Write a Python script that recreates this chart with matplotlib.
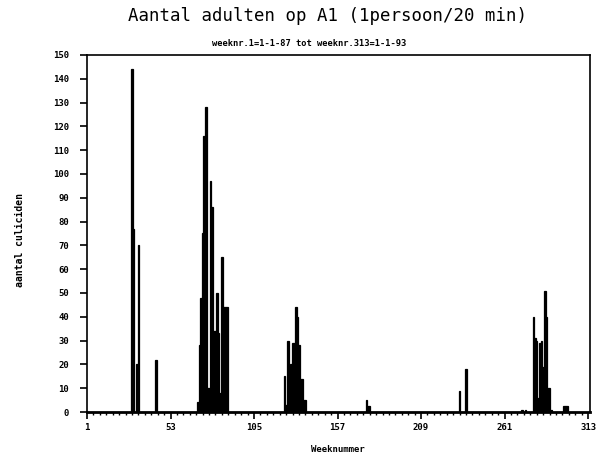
import matplotlib
matplotlib.use("Agg")
import matplotlib.pyplot as plt
import numpy as np

# Data (weeks with non-zero counts; all other weeks are 0)
weeks = [29, 30, 32, 33, 44,
         70, 71, 72, 73, 74, 75, 76, 77, 78, 79, 80, 81, 82, 83, 84, 85, 86, 87, 88,
         124, 125, 126, 127, 128, 129, 130, 131, 132, 133, 134, 135, 136, 137,
         175, 176, 177, 233, 237,
         272, 274,
         279, 280, 281, 282, 283, 284, 285, 286, 287, 288, 289, 290,
         298, 299, 300]
counts = [144, 77, 20, 70, 22,
          4, 28, 48, 75, 116, 128, 10, 10, 97, 86, 34, 34, 50, 33, 8, 65, 44, 44, 44,
          15, 3, 30, 19, 20, 29, 29, 44, 40, 28, 14, 14, 5, 5,
          5, 2.5, 2.5, 9, 18,
          1, 1,
          40, 31, 30, 6, 29, 30, 19, 51, 40, 10, 10, 1,
          2.5, 2.5, 2.5]
xticks = [1, 53, 105, 157, 209, 261, 313]
yticks = list(range(0, 151, 10))

title = "Aantal adulten op A1 (1persoon/20 min)"
subtitle = "weeknr.1=1-1-87 tot weeknr.313=1-1-93"
ylabel = "aantal culiciden"
xlabel = "Weeknummer"

plt.rcParams['font.family'] = ['DejaVu Sans Mono']
plt.rcParams['font.weight'] = 'bold'

fig = plt.figure(figsize=(5.97, 4.59), dpi=100)
ax = fig.add_axes([87/597, 1 - 412/459, (590 - 87)/597, (412 - 55)/459])

ax.bar(weeks, counts, width=1.0, color='black', edgecolor='black', align='center', linewidth=0.9)

ax.set_xlim(1, 314.2)
ax.set_ylim(0, 150)
ax.set_xticks(xticks)
ax.set_xticklabels([str(t) for t in xticks], fontsize=6.5, fontweight='bold')
ax.set_xticks(np.arange(1, 314, 4), minor=True)
ax.set_yticks(yticks)
ax.set_yticklabels([str(t) for t in yticks], fontsize=6.5, fontweight='bold')
ax.tick_params(axis='both', which='major', direction='out', length=5, width=1.2, pad=3)
ax.tick_params(axis='x', which='minor', direction='out', length=2.5, width=1)
ax.tick_params(axis='y', which='major', pad=8)
for s in ax.spines.values():
    s.set_linewidth(1.2)
ax.spines['bottom'].set_linewidth(2.0)

fig.text(327/597, 1 - 16/459, title, ha='center', va='center', fontsize=12.5, fontweight='normal')
fig.text(309/597, 1 - 43/459, subtitle, ha='center', va='center', fontsize=6.3, fontweight='bold')
fig.text(20/597, 1 - 240/459, ylabel, ha='center', va='center', rotation=90, fontsize=7, fontweight='bold')
fig.text(338/597, 1 - 450/459, xlabel, ha='center', va='center', fontsize=6.5, fontweight='bold')

fig.savefig("out.png", dpi=100)
